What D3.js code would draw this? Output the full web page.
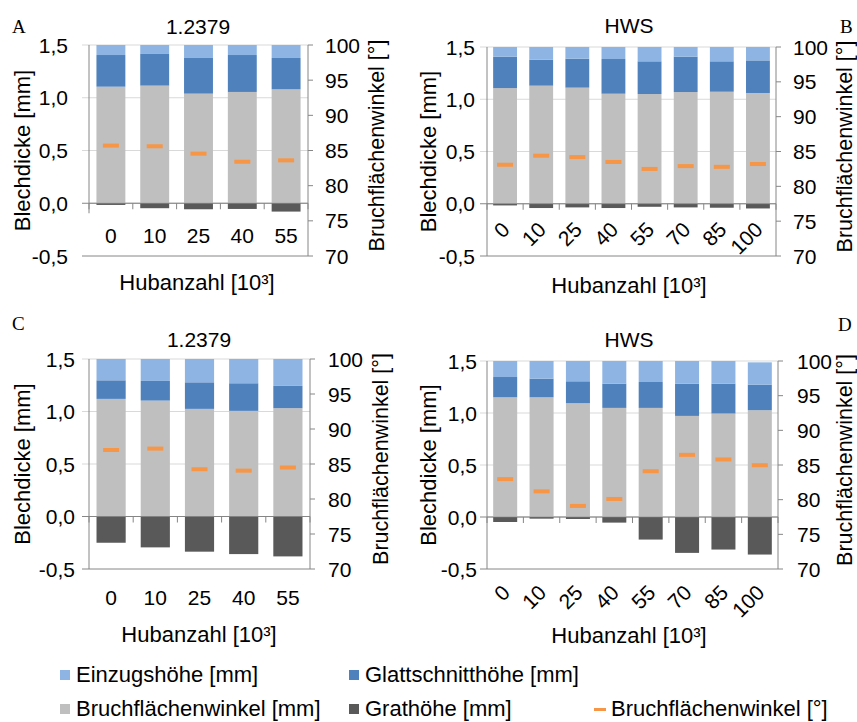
<!DOCTYPE html>
<html>
<head>
<meta charset="utf-8">
<script src="https://cdn.jsdelivr.net/npm/d3@7"></script>
<style>
  body { margin: 0; background: #fff; }
  svg { display: block; }
  text { font-family: "Liberation Sans", Arial, sans-serif; fill: #000; }
</style>
</head>
<body>
<svg id="chart" width="857" height="722"></svg>
<script>
// ---------- DATA ----------
const catsShort = ["0", "10", "25", "40", "55"];
const catsLong = ["0", "10", "25", "40", "55", "70", "85", "100"];
const leftTicks = [-0.5, 0.0, 0.5, 1.0, 1.5];
const rightTicks = [70, 75, 80, 85, 90, 95, 100];
const titles = ["1.2379", "HWS", "1.2379", "HWS"];
const panelLetters = ["A", "B", "C", "D"];
const seriesNames = ["Einzugshöhe [mm]", "Glattschnitthöhe [mm]", "Bruchflächenwinkel [mm]", "Grathöhe [mm]", "Bruchflächenwinkel [°]"];

// Panel A (1.2379)
const bruchA  = [1.105, 1.115, 1.039, 1.055, 1.080];
const glattA  = [0.300, 0.300, 0.338, 0.350, 0.297];
const einzugA = [0.095, 0.085, 0.123, 0.095, 0.123];
const gratA   = [-0.016, -0.047, -0.057, -0.054, -0.079];
const angleA  = [85.7, 85.6, 84.55, 83.4, 83.6];

// Panel B (HWS)
const bruchB  = [1.107, 1.130, 1.111, 1.053, 1.050, 1.069, 1.072, 1.060];
const glattB  = [0.300, 0.249, 0.277, 0.332, 0.313, 0.338, 0.291, 0.312];
const einzugB = [0.093, 0.121, 0.112, 0.115, 0.137, 0.093, 0.137, 0.128];
const gratB   = [-0.016, -0.041, -0.035, -0.041, -0.029, -0.035, -0.038, -0.045];
const angleB  = [83.1, 84.4, 84.2, 83.5, 82.5, 82.9, 82.8, 83.2];

// Panel C (1.2379)
const bruchC  = [1.120, 1.104, 1.025, 1.006, 1.032];
const glattC  = [0.177, 0.187, 0.253, 0.263, 0.212];
const einzugC = [0.203, 0.209, 0.222, 0.231, 0.256];
const gratC   = [-0.250, -0.294, -0.335, -0.358, -0.380];
const angleC  = [87.0, 87.2, 84.25, 84.05, 84.5];

// Panel D (HWS)
const bruchD  = [1.151, 1.151, 1.094, 1.049, 1.049, 0.972, 0.995, 1.027];
const glattD  = [0.195, 0.179, 0.211, 0.233, 0.249, 0.310, 0.287, 0.246];
const einzugD = [0.154, 0.170, 0.195, 0.218, 0.202, 0.218, 0.218, 0.214];
const gratD   = [-0.048, -0.016, -0.019, -0.054, -0.217, -0.345, -0.313, -0.361];
const angleD  = [82.96, 81.2, 79.1, 80.1, 84.1, 86.46, 85.8, 84.97];

// ---------- STYLE ----------
const C_EINZUG = "#8DB4E2", C_GLATT = "#4F81BD", C_BRUCH = "#BFBFBF", C_GRAT = "#595959", C_ANGLE = "#F79646";
const C_GRID = "#D9D9D9", C_AXIS = "#868686";

const svg = d3.select("#chart");

const panels = [
  { cats: catsShort, bruch: bruchA, glatt: glattA, einzug: einzugA, grat: gratA, angle: angleA,
    x0: 89, x1: 308, yT: 45, yB: 256, rot: false, labY: 243, lLab: 68, rLab: 325,
    tx: 198, ty: 34, lx: 12, ly: 33, ltx: 22, rtx: 377, hx: 197, hy: 290, cutLeft: true },
  { cats: catsLong, bruch: bruchB, glatt: glattB, einzug: einzugB, grat: gratB, angle: angleB,
    x0: 487, x1: 776, yT: 47, yB: 256, rot: true, labY: 231, lLab: 475, rLab: 793,
    tx: 629, ty: 33, lx: 840, ly: 33, ltx: 428, rtx: 845, hx: 629, hy: 293 },
  { cats: catsShort, bruch: bruchC, glatt: glattC, einzug: einzugC, grat: gratC, angle: angleC,
    x0: 89, x1: 310, yT: 359, yB: 569, rot: false, labY: 605, lLab: 75, rLab: 328,
    tx: 199, ty: 347, lx: 12, ly: 330, ltx: 22, rtx: 381, hx: 199, hy: 642 },
  { cats: catsLong, bruch: bruchD, glatt: glattD, einzug: einzugD, grat: gratD, angle: angleD,
    x0: 487, x1: 778, yT: 361, yB: 569, rot: true, labY: 594, lLab: 477, rLab: 797,
    tx: 629, ty: 347, lx: 838, ly: 331, ltx: 428, rtx: 845, hx: 629, hy: 643 }
];

panels.forEach((p, pi) => {
  const g = svg.append("g");
  const x = d3.scaleBand().domain(p.cats).range([p.x0, p.x1]).paddingInner(0.34).paddingOuter(0.17);
  const y = d3.scaleLinear().domain([-0.5, 1.5]).range([p.yB, p.yT]);
  const y2 = d3.scaleLinear().domain([70, 100]).range([p.yB, p.yT]);
  const step = (p.x1 - p.x0) / p.cats.length;

  // gridlines + left ticks
  g.selectAll(".grid").data(leftTicks).enter().append("line")
    .attr("x1", p.x0 - 7).attr("x2", p.x1)
    .attr("y1", d => y(d)).attr("y2", d => y(d))
    .attr("stroke", d => (d === 0 || d === -0.5) ? C_AXIS : C_GRID).attr("stroke-width", 1);

  // left axis line
  g.append("line").attr("x1", p.x0).attr("x2", p.x0)
    .attr("y1", p.yT).attr("y2", p.cutLeft ? y(0) + 10 : p.yB)
    .attr("stroke", C_AXIS);

  // category ticks on zero line
  g.selectAll(".ct").data(d3.range(p.cats.length + 1)).enter().append("line")
    .attr("x1", i => p.x0 + i * step).attr("x2", i => p.x0 + i * step)
    .attr("y1", y(0)).attr("y2", y(0) + 6).attr("stroke", C_AXIS);

  // stacked bars
  const stackData = p.cats.map((c, i) => ({ cat: c, bruch: p.bruch[i], glatt: p.glatt[i], einzug: p.einzug[i] }));
  const stack = d3.stack().keys(["bruch", "glatt", "einzug"])(stackData);
  const colors = { bruch: C_BRUCH, glatt: C_GLATT, einzug: C_EINZUG };
  stack.forEach(layer => {
    g.selectAll(null).data(layer).enter().append("rect")
      .attr("x", d => x(d.data.cat)).attr("width", x.bandwidth())
      .attr("y", d => y(Math.min(d[1], 1.5)))
      .attr("height", d => y(d[0]) - y(Math.min(d[1], 1.5)))
      .attr("fill", colors[layer.key]);
  });
  // burr (negative)
  g.selectAll(null).data(p.grat).enter().append("rect")
    .attr("x", (d, i) => x(p.cats[i])).attr("width", x.bandwidth())
    .attr("y", y(0)).attr("height", d => y(d) - y(0))
    .attr("fill", C_GRAT);

  // zero line on top
  g.append("line").attr("x1", p.x0).attr("x2", p.x1).attr("y1", y(0)).attr("y2", y(0))
    .attr("stroke", C_AXIS).attr("stroke-opacity", 0.6);

  // angle markers
  g.selectAll(null).data(p.angle).enter().append("rect")
    .attr("x", (d, i) => x(p.cats[i]) + x.bandwidth() / 2 - 8).attr("width", 16)
    .attr("y", d => y2(d) - 2).attr("height", 4).attr("fill", C_ANGLE);

  // right axis
  g.append("line").attr("x1", p.x1).attr("x2", p.x1).attr("y1", p.yT).attr("y2", p.yB).attr("stroke", C_AXIS);
  g.selectAll(null).data(rightTicks).enter().append("line")
    .attr("x1", p.x1).attr("x2", p.x1 + 5).attr("y1", d => y2(d)).attr("y2", d => y2(d)).attr("stroke", C_AXIS);
  g.selectAll(null).data(rightTicks).enter().append("text")
    .attr("x", p.rLab).attr("y", d => y2(d)).attr("dy", "0.36em")
    .attr("font-size", 21).text(d => d);

  // left tick labels
  g.selectAll(null).data(leftTicks).enter().append("text")
    .attr("x", p.lLab).attr("y", d => y(d)).attr("dy", "0.36em").attr("text-anchor", "end")
    .attr("font-size", 21).text(d => d3.format(".1f")(d).replace(".", ",").replace("\u2212", "-"));

  // category labels
  if (!p.rot) {
    g.selectAll(null).data(p.cats).enter().append("text")
      .attr("x", d => x(d) + x.bandwidth() / 2).attr("y", p.labY).attr("text-anchor", "middle")
      .attr("font-size", 21).text(d => d);
  } else {
    g.selectAll(null).data(p.cats).enter().append("text")
      .attr("transform", d => `translate(${x(d) + x.bandwidth() / 2 + 6},${p.labY}) rotate(-45)`)
      .attr("text-anchor", "end").attr("font-size", 21).text(d => d);
  }

  // titles
  g.append("text").attr("x", p.tx).attr("y", p.ty).attr("text-anchor", "middle").attr("font-size", 21).text(titles[pi]);
  g.append("text").attr("x", p.lx).attr("y", p.ly).attr("font-size", 19)
    .style("font-family", "'Liberation Serif', 'Times New Roman', serif").text(panelLetters[pi]);
  const mid = (p.yT + p.yB) / 2;
  g.append("text").attr("transform", `translate(${p.ltx},${mid}) rotate(-90)`)
    .attr("text-anchor", "middle").attr("dominant-baseline", "central").attr("font-size", 22).text("Blechdicke [mm]");
  g.append("text").attr("transform", `translate(${p.rtx},${mid - 5}) rotate(-90)`)
    .attr("text-anchor", "middle").attr("dominant-baseline", "central").attr("font-size", 21.5).text("Bruchflächenwinkel [°]");
  g.append("text").attr("x", p.hx).attr("y", p.hy).attr("text-anchor", "middle").attr("font-size", 22).text("Hubanzahl [10³]");
});

// ---------- LEGEND ----------
const legendItems = [
  { name: seriesNames[0], color: C_EINZUG, type: "box", x: 60, y: 682 },
  { name: seriesNames[1], color: C_GLATT, type: "box", x: 349, y: 682 },
  { name: seriesNames[2], color: C_BRUCH, type: "box", x: 60, y: 716 },
  { name: seriesNames[3], color: C_GRAT, type: "box", x: 349, y: 716 },
  { name: seriesNames[4], color: C_ANGLE, type: "dash", x: 594, y: 716 }
];
const lg = svg.append("g");
legendItems.forEach(it => {
  if (it.type === "box") {
    lg.append("rect").attr("x", it.x).attr("y", it.y - 12).attr("width", 10).attr("height", 10).attr("fill", it.color);
    lg.append("text").attr("x", it.x + 16).attr("y", it.y).attr("font-size", 22).text(it.name);
  } else {
    lg.append("rect").attr("x", it.x).attr("y", it.y - 8).attr("width", 12).attr("height", 3).attr("fill", it.color);
    lg.append("text").attr("x", it.x + 17).attr("y", it.y).attr("font-size", 22).text(it.name);
  }
});
</script>
</body>
</html>
